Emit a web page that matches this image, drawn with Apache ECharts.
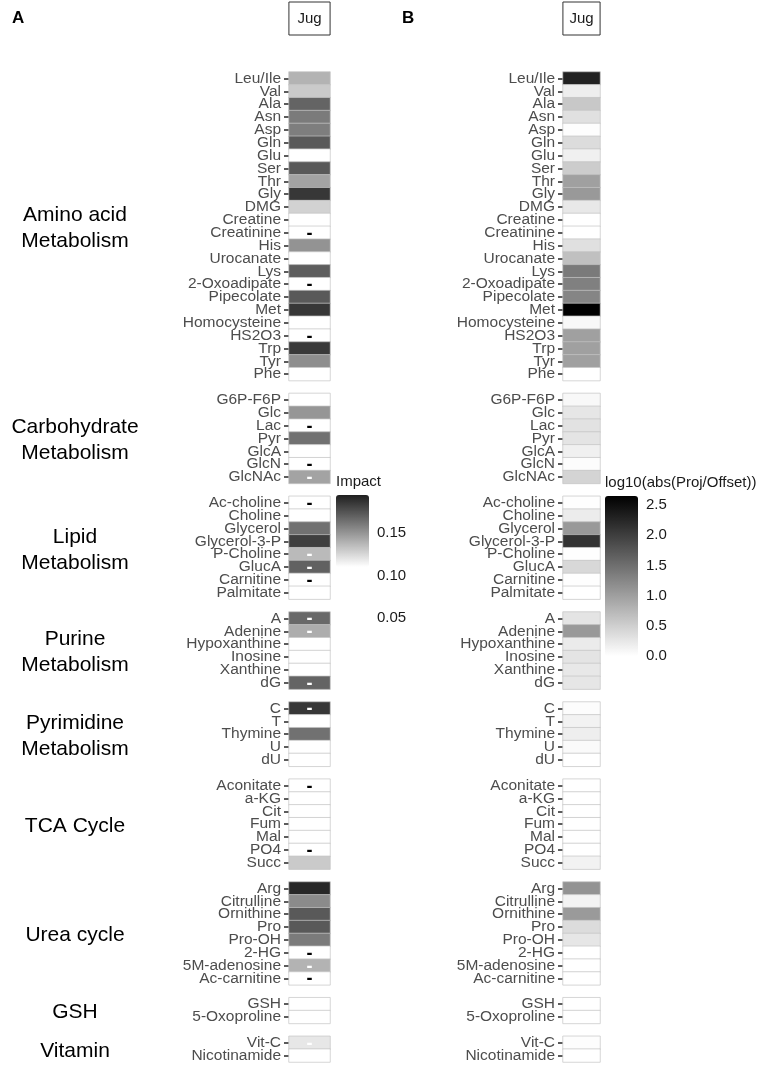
<!DOCTYPE html>
<html>
<head>
<meta charset="utf-8">
<script src="https://cdn.jsdelivr.net/npm/echarts@6/dist/echarts.min.js"></script>
<style>
  html, body { margin: 0; padding: 0; background: #fff; }
  #chart { width: 761px; height: 1067px; }
</style>
</head>
<body>
<div id="chart"></div>
<script>
  // 代谢通路分组
  const groupNames = [
    'Amino acid\nMetabolism', 'Carbohydrate\nMetabolism', 'Lipid\nMetabolism',
    'Purine\nMetabolism', 'Pyrimidine\nMetabolism', 'TCA Cycle', 'Urea cycle', 'GSH', 'Vitamin',
  ];
  const groupMembers = [
    ['Leu/Ile', 'Val', 'Ala', 'Asn', 'Asp', 'Gln', 'Glu', 'Ser', 'Thr', 'Gly', 'DMG', 'Creatine',
      'Creatinine', 'His', 'Urocanate', 'Lys', '2-Oxoadipate', 'Pipecolate', 'Met', 'Homocysteine',
      'HS2O3', 'Trp', 'Tyr', 'Phe'],
    ['G6P-F6P', 'Glc', 'Lac', 'Pyr', 'GlcA', 'GlcN', 'GlcNAc'],
    ['Ac-choline', 'Choline', 'Glycerol', 'Glycerol-3-P', 'P-Choline', 'GlucA', 'Carnitine', 'Palmitate'],
    ['A', 'Adenine', 'Hypoxanthine', 'Inosine', 'Xanthine', 'dG'],
    ['C', 'T', 'Thymine', 'U', 'dU'],
    ['Aconitate', 'a-KG', 'Cit', 'Fum', 'Mal', 'PO4', 'Succ'],
    ['Arg', 'Citrulline', 'Ornithine', 'Pro', 'Pro-OH', '2-HG', '5M-adenosine', 'Ac-carnitine'],
    ['GSH', '5-Oxoproline'],
    ['Vit-C', 'Nicotinamide'],
  ];
  const condition = ['Jug'];

  // A: Impact
  const impactA = [
    0.139, 0.130, 0.169, 0.160, 0.159, 0.173, 0, 0.173, 0.145, 0.186, 0.127, 0,
    0, 0.151, 0, 0.171, 0, 0.173, 0.186, 0, 0, 0.185, 0.153, 0,
    0, 0.150, 0, 0.164, 0, 0, 0.145,
    0, 0, 0.164, 0.183, 0.136, 0.170, 0, 0,
    0.167, 0.141, 0, 0, 0, 0.169,
    0.186, 0, 0.164, 0, 0,
    0, 0, 0, 0, 0, 0, 0.130,
    0.192, 0.154, 0.173, 0.173, 0.160, 0, 0.139, 0,
    0, 0,
    0.119, 0,
  ];
  const negDarkA = ['Creatinine', '2-Oxoadipate', 'HS2O3', 'Lac', 'GlcN', 'Ac-choline', 'Carnitine',
    'Aconitate', 'PO4', '2-HG', 'Ac-carnitine'];
  const negLightA = ['GlcNAc', 'P-Choline', 'GlucA', 'A', 'Adenine', 'dG', 'C', '5M-adenosine', 'Vit-C'];

  // B: log10(abs(Proj/Offset))
  const logRatioB = [
    2.30, 0.18, 0.57, 0.32, 0.02, 0.36, 0.16, 0.53, 0.99, 1.06, 0.24, 0.00,
    0.00, 0.32, 0.65, 1.38, 1.32, 1.27, 2.65, 0.07, 0.99, 0.99, 0.99, 0.00,
    0.07, 0.26, 0.30, 0.28, 0.16, 0.03, 0.45,
    0.01, 0.20, 1.06, 2.12, 0.01, 0.41, 0.01, 0.00,
    0.28, 1.06, 0.21, 0.28, 0.24, 0.26,
    0.03, 0.14, 0.18, 0.05, 0.00,
    0.00, 0.00, 0.00, 0.00, 0.00, 0.00, 0.14,
    1.12, 0.12, 1.05, 0.36, 0.26, 0.00, 0.00, 0.00,
    0.00, 0.00,
    0.02, 0.00,
  ];

  const impactTicks = [0.15, 0.10, 0.05];
  const logTicks = [2.5, 2.0, 1.5, 1.0, 0.5, 0.0];

  const FONT = 'Liberation Sans, Arial, sans-serif';

  // 分组之间插入空行
  const categories = [];
  const rowIndex = [];
  const groupSpan = [];
  groupMembers.forEach((members, g) => {
    if (g > 0) categories.push('_gap' + g);
    const first = categories.length;
    members.forEach((m) => {
      rowIndex.push(categories.length);
      categories.push(m);
    });
    groupSpan.push([first, categories.length - 1]);
  });
  const metabolites = groupMembers.flat();
  const isGap = (v) => String(v).startsWith('_gap');

  const dataA = metabolites.map((m, i) => {
    const item = { value: [0, rowIndex[i], impactA[i]] };
    if (negDarkA.includes(m)) item.label = { show: true, color: '#000' };
    if (negLightA.includes(m)) item.label = { show: true, color: '#fff' };
    return item;
  });
  const dataB = metabolites.map((m, i) => [0, rowIndex[i], logRatioB[i]]);

  const barA = { left: 336, top: 495, width: 33, height: 72, min: 0.11, max: 0.195 };
  const barB = { left: 605, top: 496, width: 33, height: 160, min: 0, max: 2.65 };

  const yAxisOf = (gridIndex) => ({
    type: 'category',
    gridIndex,
    data: categories,
    inverse: true,
    axisLine: { show: false },
    splitLine: { show: false },
    axisTick: {
      show: true,
      alignWithLabel: true,
      length: 5,
      interval: (i, v) => !isGap(v),
      lineStyle: { color: '#333', width: 1.6 },
    },
    axisLabel: {
      interval: 0,
      formatter: (v) => (isGap(v) ? '' : v),
      margin: 8,
      fontSize: 15.5,
      lineHeight: 13,
      fontFamily: FONT,
      color: '#4d4d4d',
    },
  });

  const xAxisOf = (gridIndex, pad) => ({
    type: 'category',
    gridIndex,
    data: condition,
    position: 'top',
    axisLine: { show: false },
    axisTick: { show: false },
    splitLine: { show: false },
    axisLabel: {
      margin: 37,
      fontSize: 15,
      fontFamily: FONT,
      color: '#1a1a1a',
      lineHeight: 17,
      borderColor: '#333',
      borderWidth: 1,
      padding: [8, pad, 8, pad],
    },
  });

  const cellStyle = { borderColor: '#c4c4c4', borderWidth: 0.7 };

  const chart = echarts.init(document.getElementById('chart'));
  const option = {
    animation: false,
    backgroundColor: '#fff',
    grid: [
      { left: 289, top: 72, width: 41, height: 990 },
      { left: 563, top: 72, width: 37, height: 990 },
    ],
    xAxis: [xAxisOf(0, 8.5), xAxisOf(1, 6.5)],
    yAxis: [yAxisOf(0), yAxisOf(1)],
    visualMap: [
      {
        type: 'continuous',
        seriesIndex: 0,
        dimension: 2,
        min: barA.min,
        max: barA.max,
        left: barA.left,
        top: barA.top,
        itemWidth: barA.width,
        itemHeight: barA.height,
        padding: 0,
        calculable: false,
        hoverLink: false,
        inRange: { color: ['#ffffff', '#1f1f1f'] },
        outOfRange: { color: '#ffffff' },
      },
      {
        type: 'continuous',
        seriesIndex: 1,
        dimension: 2,
        min: barB.min,
        max: barB.max,
        left: barB.left,
        top: barB.top,
        itemWidth: barB.width,
        itemHeight: barB.height,
        padding: 0,
        calculable: false,
        hoverLink: false,
        inRange: { color: ['#ffffff', '#000000'] },
        outOfRange: { color: '#ffffff' },
      },
    ],
    series: [
      {
        type: 'heatmap',
        xAxisIndex: 0,
        yAxisIndex: 0,
        data: dataA,
        itemStyle: cellStyle,
        label: {
          show: false,
          formatter: '-',
          fontSize: 18,
          fontWeight: 'bold',
          fontFamily: FONT,
          offset: [0, 1],
        },
        emphasis: { disabled: true },
      },
      {
        type: 'heatmap',
        xAxisIndex: 1,
        yAxisIndex: 1,
        data: dataB,
        itemStyle: cellStyle,
        emphasis: { disabled: true },
      },
    ],
  };
  chart.setOption(option);

  // 左侧通路名称、图例刻度等
  const graphics = [];
  graphics.push({ type: 'text', style: { text: 'A', x: 12, y: 18, verticalAlign: 'middle', font: 'bold 17px ' + FONT, fill: '#000' } });
  graphics.push({ type: 'text', style: { text: 'B', x: 402, y: 18, verticalAlign: 'middle', font: 'bold 17px ' + FONT, fill: '#000' } });

  groupSpan.forEach(([a, b], g) => {
    const y0 = chart.convertToPixel({ gridIndex: 0 }, [0, a])[1];
    const y1 = chart.convertToPixel({ gridIndex: 0 }, [0, b])[1];
    graphics.push({
      type: 'text',
      style: {
        text: groupNames[g],
        x: 75,
        y: (y0 + y1) / 2 + 2,
        align: 'center',
        verticalAlign: 'middle',
        lineHeight: 26,
        font: '21px ' + FONT,
        fill: '#000',
      },
    });
  });

  const addBarTicks = (bar, ticks, title, digits) => {
    graphics.push({
      type: 'text',
      style: { text: title, x: bar.left, y: bar.top - 13, verticalAlign: 'middle', font: '15px ' + FONT, fill: '#1a1a1a' },
    });
    ticks.forEach((v) => {
      const y = bar.top + (bar.max - v) / (bar.max - bar.min) * bar.height;
      graphics.push({
        type: 'text',
        style: { text: v.toFixed(digits), x: bar.left + bar.width + 8, y, verticalAlign: 'middle', font: '15px ' + FONT, fill: '#1a1a1a' },
      });
      if (y > bar.top && y < bar.top + bar.height) {
        [[bar.left, bar.left + 6], [bar.left + bar.width - 6, bar.left + bar.width]].forEach(([xa, xb]) => {
          graphics.push({
            type: 'line',
            shape: { x1: xa, y1: y, x2: xb, y2: y },
            style: { stroke: 'rgba(255,255,255,0.75)', lineWidth: 1 },
          });
        });
      }
    });
  };
  addBarTicks(barA, impactTicks, 'Impact', 2);
  addBarTicks(barB, logTicks, 'log10(abs(Proj/Offset))', 1);

  chart.setOption({ graphic: graphics });
</script>
</body>
</html>
